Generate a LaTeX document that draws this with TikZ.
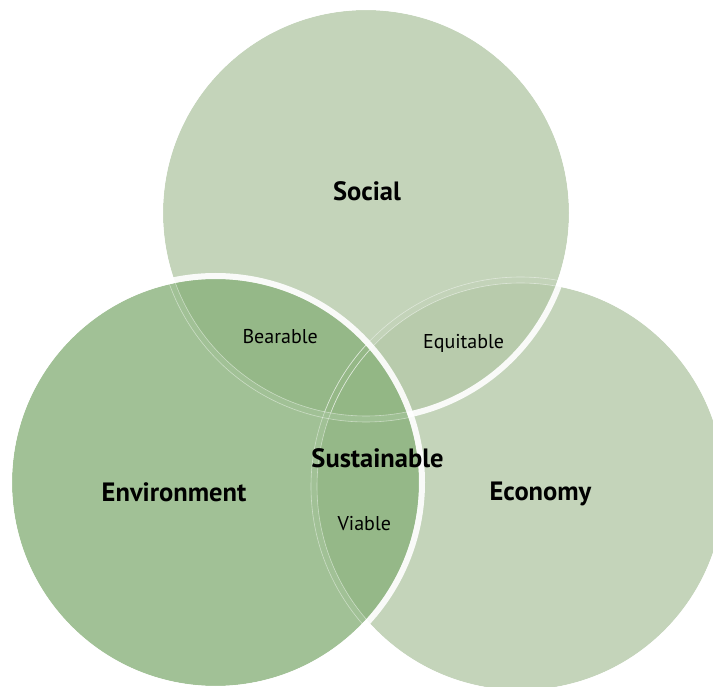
\documentclass[tikz,border=0pt]{standalone}
\usepackage{fontspec}
\setmainfont{PT Sans}
\definecolor{softc}{RGB}{181,201,169}
\definecolor{envc}{RGB}{138,178,124}
\tikzset{
  disc/.style={fill=#1, fill opacity=0.8, draw=none},
  rim/.style={draw=white, draw opacity=0.9, line width=6pt},
  seam/.style={draw=white, draw opacity=0.45, line width=0.6pt},
  biglabel/.style={font=\fontsize{26.5}{30}\selectfont\bfseries, anchor=base, inner sep=0pt},
  smalllabel/.style={font=\fontsize{20}{23}\selectfont, anchor=base, inner sep=0pt},
}
\begin{document}
\begin{tikzpicture}[x=1pt,y=-1pt]
\useasboundingbox (0,0) rectangle (713,687);
\clip (0,0) rectangle (713,687);
\coordinate (eco) at (520.5,486.5);
\coordinate (soc) at (366,213);
\coordinate (env) at (215.5,482.5);
% Economy
\fill[disc=softc] (eco) circle[radius=203.5pt];
\draw[rim] (eco) circle[radius=206.5pt];
% Social
\fill[disc=softc] (soc) circle[radius=203pt];
\draw[rim] (soc) circle[radius=206pt];
% Environment
\fill[disc=envc] (env) circle[radius=203.5pt];
\draw[rim] (env) circle[radius=206.5pt];
% faint seams of lower rims seen through upper discs
\begin{scope}
  \clip (soc) circle[radius=203pt];
  \draw[seam] (eco) circle[radius=203.5pt];
  \draw[seam] (eco) circle[radius=209.5pt];
\end{scope}
\begin{scope}
  \clip (env) circle[radius=203.5pt];
  \draw[seam] (eco) circle[radius=203.5pt];
  \draw[seam] (eco) circle[radius=209.5pt];
  \draw[seam] (soc) circle[radius=203pt];
  \draw[seam] (soc) circle[radius=209pt];
\end{scope}
% labels
\node[biglabel] (lsocial) at (367,201) {Social};
\node[biglabel] (lenv) at (174,501) {Environment};
\node[biglabel] (leco) at (540.5,500) {Economy};
\node[biglabel] (lsus) at (377.5,467.3) {Sustainable};
\node[smalllabel] (lbear) at (280.2,344) {Bearable};
\node[smalllabel] (lequ) at (463.6,348.3) {Equitable};
\node[smalllabel] (lvia) at (364.3,530) {Viable};
\end{tikzpicture}
\end{document}
